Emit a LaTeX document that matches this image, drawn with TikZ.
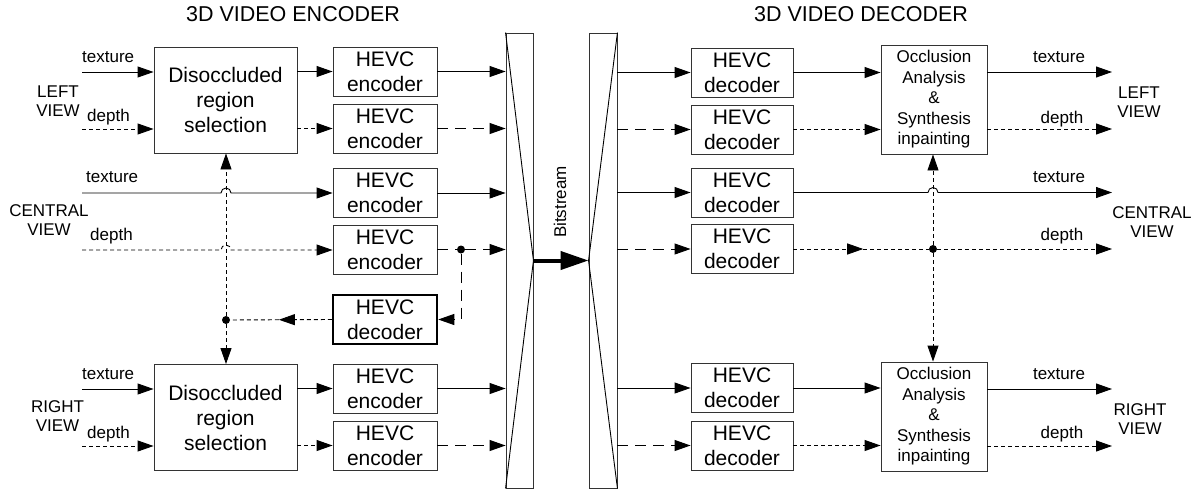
\documentclass[tikz,border=0pt]{standalone}
\usepackage{fontspec}
\setmainfont{Liberation Sans}
\usetikzlibrary{arrows.meta,calc}
\tikzset{
  blk/.style={draw=black!80,line width=0.9pt,inner sep=0pt,align=center,font=\fontsize{21}{25}\selectfont},
  hevc/.style={blk,minimum width=104pt,minimum height=49pt},
  dis/.style={blk,minimum width=143pt,minimum height=106pt},
  occ/.style={blk,minimum width=106pt,minimum height=109pt,font=\fontsize{17}{20.5}\selectfont},
  mx/.style={draw=black!80,line width=0.9pt,inner sep=0pt,minimum height=455pt},
  lbl/.style={inner sep=0pt,font=\fontsize{17}{19.5}\selectfont},
  view/.style={lbl,align=center},
  ttl/.style={inner sep=0pt,font=\fontsize{21.5}{24}\selectfont},
  arr/.style={-{Triangle[length=16pt,width=11pt]}},
  sol/.style={line width=0.9pt},
  fine/.style={line width=0.9pt,dash pattern=on 4pt off 3pt},
  long/.style={line width=0.9pt,dash pattern=on 11pt off 7pt},
  dot/.style={circle,fill,inner sep=0pt,minimum size=8pt},
}
\begin{document}
\begin{tikzpicture}[x=1pt,y=-1pt]
\useasboundingbox (0,0) rectangle (1202,490);
% titles
\node[ttl] (ttlE) at (293,14) {3D VIDEO ENCODER};
\node[ttl] (ttlD) at (861,14) {3D VIDEO DECODER};
% encoder blocks
\node[dis] (disL) at (225.5,100) {Disoccluded\\region\\selection};
\node[dis] (disR) at (225.5,417.5) {Disoccluded\\region\\selection};
\node[hevc] (encL1) at (385,71.5) {HEVC\\encoder};
\node[hevc] (encL2) at (385,128.5) {HEVC\\encoder};
\node[hevc] (encC1) at (385,193) {HEVC\\encoder};
\node[hevc] (encC2) at (385,249.5) {HEVC\\encoder};
\node[hevc,line width=2.5pt,draw=black] (decE) at (385,319.5) {HEVC\\decoder};
\node[hevc] (encR1) at (385,388.5) {HEVC\\encoder};
\node[hevc] (encR2) at (385,445.5) {HEVC\\encoder};
% mux / demux
\node[mx,minimum width=27pt] (mux) at (519.5,260.5) {};
\node[mx,minimum width=28pt] (demux) at (603,260.5) {};
\draw[sol] (mux.north west) -- (mux.east) -- (mux.south west);
\draw[sol] (demux.north east) -- (demux.west) -- (demux.south east);
\node[lbl,rotate=90] (bits) at (560,202) {Bitstream};
\draw[line width=4pt,-{Triangle[length=28pt,width=18pt]}] (mux.east) -- (demux.west);
% decoder blocks
\node[hevc,minimum width=102pt] (decL1) at (742,72.5) {HEVC\\decoder};
\node[hevc,minimum width=102pt] (decL2) at (742,129.5) {HEVC\\decoder};
\node[hevc,minimum width=102pt] (decC1) at (742,192.5) {HEVC\\decoder};
\node[hevc,minimum width=102pt] (decC2) at (742,249) {HEVC\\decoder};
\node[hevc,minimum width=102pt] (decR1) at (742,388) {HEVC\\decoder};
\node[hevc,minimum width=102pt] (decR2) at (742,445.5) {HEVC\\decoder};
\node[occ] (occL) at (934,99.5) {Occlusion\\Analysis\\\&\\Synthesis\\inpainting};
\node[occ] (occR) at (934,416.5) {Occlusion\\Analysis\\\&\\Synthesis\\inpainting};
% dots
\node[dot] (dotE) at (226,320) {};
\node[dot] (dotC) at (461,249.5) {};
\node[dot] (dotD) at (933,249) {};
% view labels
\node[view] (vinL) at (58,101) {LEFT\\VIEW};
\node[view] (vinC) at (49,220) {CENTRAL\\VIEW};
\node[view] (vinR) at (57.5,416) {RIGHT\\VIEW};
\node[view] (voutL) at (1139,102) {LEFT\\VIEW};
\node[view] (voutC) at (1152,222) {CENTRAL\\VIEW};
\node[view] (voutR) at (1140,419) {RIGHT\\VIEW};
\node[lbl,anchor=base west] (tinL) at (82,62) {texture};
\node[lbl,anchor=base west] (dinL) at (87,121) {depth};
\node[lbl,anchor=base west] (tinC) at (86,182) {texture};
\node[lbl,anchor=base west] (dinC) at (90,240) {depth};
\node[lbl,anchor=base west] (tinR) at (82,379) {texture};
\node[lbl,anchor=base west] (dinR) at (87,438) {depth};
\node[lbl,anchor=base] (toutL) at (1059,62) {texture};
\node[lbl,anchor=base] (doutL) at (1062,123) {depth};
\node[lbl,anchor=base] (toutC) at (1059,182) {texture};
\node[lbl,anchor=base] (doutC) at (1062,240) {depth};
\node[lbl,anchor=base] (toutR) at (1059,379) {texture};
\node[lbl,anchor=base] (doutR) at (1062,438) {depth};
% free ends
\coordinate (inLt) at (82,72);
\coordinate (inLd) at (82,129);
\coordinate (inCt) at (82,193);
\coordinate (inCd) at (82,250);
\coordinate (inRt) at (82,389);
\coordinate (inRd) at (82,446);
\coordinate (outLt) at (1112,72);
\coordinate (outLd) at (1112,129);
\coordinate (outCt) at (1112,192.5);
\coordinate (outCd) at (1112,249);
\coordinate (outRt) at (1112,389);
\coordinate (outRd) at (1112,446);
% encoder side
\draw[sol,arr] (inLt) -- (inLt -| disL.west);
\draw[fine,arr] (inLd) -- (inLd -| disL.west);
\draw[sol,arr] (inRt) -- (inRt -| disR.west);
\draw[fine,arr] (inRd) -- (inRd -| disR.west);
\draw[sol,arr] (disL.east |- encL1) -- (encL1.west);
\draw[fine,arr] (disL.east |- encL2) -- (encL2.west);
\draw[sol,arr] (disR.east |- encR1) -- (encR1.west);
\draw[fine,arr] (disR.east |- encR2) -- (encR2.west);
\draw[sol,arr] (inCt) -- ([xshift=-5pt]dotE |- inCt) arc[start angle=180,end angle=0,radius=5pt] -- (inCt -| encC1.west);
\draw[fine,arr] (inCd) -- ([xshift=-5pt]dotE |- inCd) arc[start angle=180,end angle=0,radius=5pt] -- (inCd -| encC2.west);
\draw[sol,arr] (encL1.east) -- (encL1.east -| mux.west);
\draw[long,arr] (encL2.east) -- (encL2.east -| mux.west);
\draw[sol,arr] (encC1.east) -- (encC1.east -| mux.west);
\draw[long] (encC2.east) -- (dotC);
\draw[long,arr] (dotC) -- (dotC -| mux.west);
\draw[long,arr] (dotC) |- (decE.east);
\draw[sol,arr] (encR1.east) -- (encR1.east -| mux.west);
\draw[long,arr] (encR2.east) -- (encR2.east -| mux.west);
\draw[fine,arr] (decE.west) -- ($(decE.west)!0.5!(dotE)$);
\draw[fine] ($(decE.west)!0.5!(dotE)$) -- (dotE);
\draw[fine,arr] (dotE) -- (dotE |- disL.south);
\draw[fine,arr] (dotE) -- (dotE |- disR.north);
% decoder side
\draw[sol,arr] (demux.east |- decL1) -- (decL1.west);
\draw[long,arr] (demux.east |- decL2) -- (decL2.west);
\draw[sol,arr] (demux.east |- decC1) -- (decC1.west);
\draw[long,arr] (demux.east |- decC2) -- (decC2.west);
\draw[sol,arr] (demux.east |- decR1) -- (decR1.west);
\draw[long,arr] (demux.east |- decR2) -- (decR2.west);
\draw[sol,arr] (decL1.east) -- (decL1.east -| occL.west);
\draw[fine,arr] (decL2.east) -- (decL2.east -| occL.west);
\draw[sol,arr] (decR1.east) -- (decR1.east -| occR.west);
\draw[fine,arr] (decR2.east) -- (decR2.east -| occR.west);
\draw[sol,arr] (decC1.east) -- ([xshift=-5pt]dotD |- decC1.east) arc[start angle=180,end angle=0,radius=5pt] -- (outCt);
\draw[fine,arr] (decC2.east) -- ($(decC2.east)!0.5!(dotD)$);
\draw[fine] ($(decC2.east)!0.5!(dotD)$) -- (dotD);
\draw[fine,arr] (dotD) -- (outCd);
\draw[fine,arr] (dotD) -- (dotD |- occL.south);
\draw[fine,arr] (dotD) -- (dotD |- occR.north);
\draw[sol,arr] (occL.east |- outLt) -- (outLt);
\draw[fine,arr] (occL.east |- outLd) -- (outLd);
\draw[sol,arr] (occR.east |- outRt) -- (outRt);
\draw[fine,arr] (occR.east |- outRd) -- (outRd);
\end{tikzpicture}
\end{document}
